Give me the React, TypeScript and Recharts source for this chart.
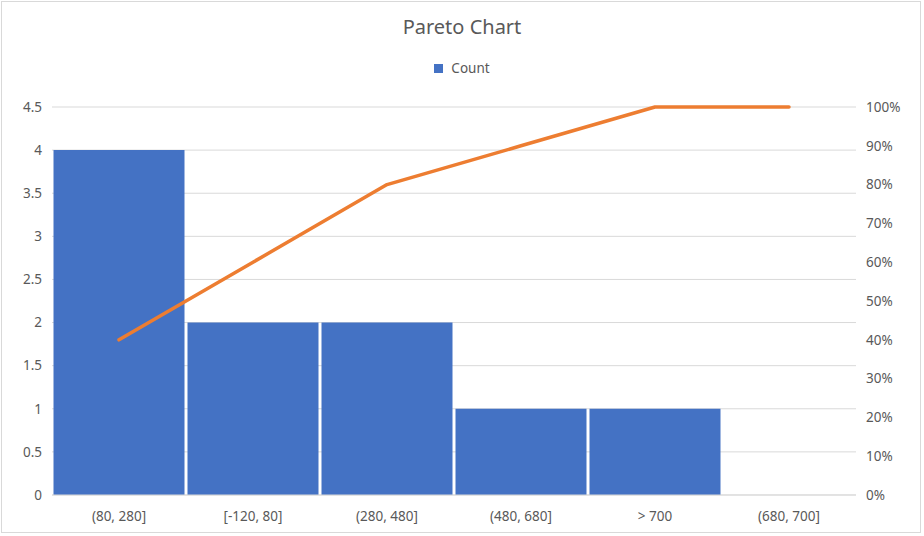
import React from "react";
import {
  Bar,
  CartesianGrid,
  ComposedChart,
  Legend,
  Line,
  XAxis,
  YAxis,
} from "recharts";

const BINS = ["(80, 280]", "[-120, 80]", "(280, 480]", "(480, 680]", "> 700", "(680, 700]"];
const COUNTS = [4, 2, 2, 1, 1, 0];
const CUMULATIVE = [0.4, 0.6, 0.8, 0.9, 1.0, 1.0];

const COUNT_TICKS = [0, 0.5, 1, 1.5, 2, 2.5, 3, 3.5, 4, 4.5];
const PCT_TICKS = [0, 0.1, 0.2, 0.3, 0.4, 0.5, 0.6, 0.7, 0.8, 0.9, 1];

const BLUE = "#4472C4";
const ORANGE = "#ED7D31";
const TEXT = "#595959";
const GRID = "#D9D9D9";
const FONT = "'Noto Sans', sans-serif";

const rows = BINS.map((bin, i) => ({
  bin,
  count: COUNTS[i],
  cum: CUMULATIVE[i],
}));

const tickStyle = { fill: TEXT, fontSize: 13.5, fontFamily: FONT };

function CountLegend() {
  return (
    <div
      style={{
        display: "flex",
        justifyContent: "center",
        alignItems: "center",
        fontFamily: FONT,
        fontSize: 13.5,
        color: TEXT,
      }}
    >
      <span
        style={{
          display: "inline-block",
          width: 9,
          height: 9,
          background: BLUE,
          marginRight: 8,
        }}
      />
      <span>Count</span>
    </div>
  );
}

export default function App() {
  return (
    <div
      style={{
        position: "absolute",
        left: 0,
        top: 0,
        width: 924,
        height: 536,
        background: "#fff",
      }}
    >
      <div
        style={{
          position: "absolute",
          left: 1,
          top: 1,
          width: 920,
          height: 532,
          border: `1px solid ${GRID}`,
          boxSizing: "border-box",
        }}
      />
      <div
        style={{
          position: "absolute",
          left: 0,
          top: 13,
          width: 924,
          textAlign: "center",
          fontFamily: FONT,
          fontSize: 20,
          color: TEXT,
        }}
      >
        Pareto Chart
      </div>
      <div style={{ position: "absolute", left: 0, top: 0 }}>
        <ComposedChart
          width={924}
          height={536}
          data={rows}
          margin={{ top: 107, right: 0, bottom: 11, left: 0 }}
          barCategoryGap={1.5}
        >
          <CartesianGrid yAxisId="left" vertical={false} stroke={GRID} strokeWidth={1} />
          <XAxis
            dataKey="bin"
            height={30}
            tickLine={false}
            axisLine={{ stroke: GRID }}
            tick={tickStyle}
            tickMargin={10}
            interval={0}
          />
          <YAxis
            yAxisId="left"
            orientation="left"
            width={52}
            domain={[0, 4.5]}
            ticks={COUNT_TICKS}
            tickLine={false}
            axisLine={false}
            tick={tickStyle}
            tickMargin={4}
          />
          <YAxis
            yAxisId="right"
            orientation="right"
            width={68}
            domain={[0, 1]}
            ticks={PCT_TICKS}
            tickFormatter={(v: number) => `${Math.round(v * 100)}%`}
            tickLine={false}
            axisLine={false}
            tick={{ ...tickStyle, textAnchor: "start" }}
            tickMargin={4}
          />
          <Legend
            verticalAlign="middle"
            content={() => <CountLegend />}
            wrapperStyle={{ top: 59, left: 0, width: 924 }}
          />
          <Bar
            yAxisId="left"
            dataKey="count"
            name="Count"
            fill={BLUE}
            isAnimationActive={false}
          />
          <Line
            yAxisId="right"
            dataKey="cum"
            type="linear"
            stroke={ORANGE}
            strokeWidth={3.5}
            strokeLinecap="round"
            strokeLinejoin="round"
            dot={false}
            activeDot={false}
            legendType="none"
            isAnimationActive={false}
          />
        </ComposedChart>
      </div>
    </div>
  );
}
